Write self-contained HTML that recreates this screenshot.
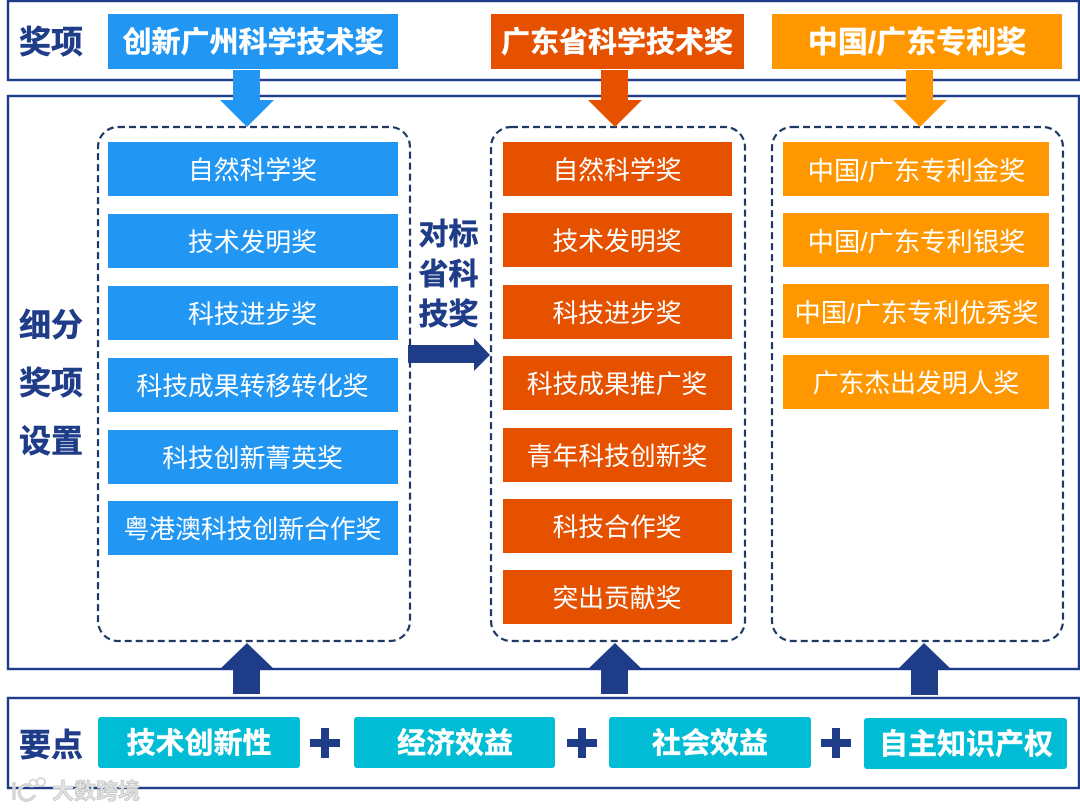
<!DOCTYPE html>
<html><head><meta charset="utf-8"><style>
html,body{margin:0;padding:0;background:#fff;width:1080px;height:810px;overflow:hidden}
svg{display:block}
text{font-family:"Liberation Sans","Noto Sans CJK SC",sans-serif;text-anchor:middle}
.i,.t,.n,.c,.w{transform:translateY(2px)}
.i{font-size:25.8px;fill:#fff;dominant-baseline:central}
.w{font-size:26.3px}
.t{font-size:29px;fill:#fff;font-weight:700;dominant-baseline:central;stroke:#fff;stroke-width:.4}
.n{font-size:32px;fill:#1f3c88;font-weight:700;dominant-baseline:central;stroke:#1f3c88;stroke-width:.5}
.c{font-size:29px;fill:#fff;font-weight:700;dominant-baseline:central;stroke:#fff;stroke-width:.4}
</style></head><body>
<svg width="1080" height="810" viewBox="0 0 1080 810" xmlns="http://www.w3.org/2000/svg">
<g fill="none" stroke="#1f3c88" stroke-width="2.4">
<rect x="8" y="1" width="1071" height="79"/>
<rect x="8" y="96" width="1071" height="573"/>
<rect x="8" y="698" width="1071" height="90"/>
</g>
<g fill="none" stroke="#1f3864" stroke-width="2.2" stroke-dasharray="7 4">
<rect x="98" y="127" width="312" height="514" rx="20"/>
<rect x="491" y="127" width="254" height="514" rx="20"/>
<rect x="772" y="127" width="291" height="514" rx="20"/>
</g>
<rect x="108" y="14" width="290" height="55" fill="#2196f3"/>
<rect x="491" y="14" width="253" height="55" fill="#e65100"/>
<rect x="772" y="14" width="290" height="55" fill="#ff9800"/>
<polygon points="233,70 260,70 260,100 274,100 247,127 220,100 233,100" fill="#2196f3"/>
<polygon points="601,70 628,70 628,100 642,100 615,127 588,100 601,100" fill="#e65100"/>
<polygon points="906,70 933,70 933,100 947,100 920,127 893,100 906,100" fill="#ff9800"/>
<g fill="#1f3c88">
<polygon points="233,694 260,694 260,669 274,669 247,643 220,669 233,669"/>
<polygon points="601,694 628,694 628,669 642,669 615,643 588,669 601,669"/>
<polygon points="911,695 938,695 938,669 951,669 924,643 898,669 911,669"/>
<polygon points="408,345 474,345 474,338 490,355 474,371 474,363 408,363"/>
<rect x="310" y="739" width="30" height="8"/><rect x="321" y="728" width="8" height="30"/>
<rect x="567" y="739" width="30" height="8"/><rect x="578" y="728" width="8" height="30"/>
<rect x="821" y="739" width="30" height="8"/><rect x="832" y="728" width="8" height="30"/>
</g>
<g fill="#2196f3">
<rect x="108" y="142" width="290" height="54"/><rect x="108" y="214" width="290" height="54"/>
<rect x="108" y="286" width="290" height="54"/><rect x="108" y="358" width="290" height="54"/>
<rect x="108" y="430" width="290" height="54"/><rect x="108" y="501" width="290" height="54"/>
</g>
<g fill="#e65100">
<rect x="503" y="142" width="229" height="54"/><rect x="503" y="213" width="229" height="54"/>
<rect x="503" y="285" width="229" height="54"/><rect x="503" y="356" width="229" height="54"/>
<rect x="503" y="428" width="229" height="54"/><rect x="503" y="499" width="229" height="54"/>
<rect x="503" y="570" width="229" height="54"/>
</g>
<g fill="#ff9800">
<rect x="783" y="142" width="266" height="54"/><rect x="783" y="213" width="266" height="54"/>
<rect x="783" y="284" width="266" height="54"/><rect x="783" y="355" width="266" height="54"/>
</g>
<g fill="#00bcd4">
<rect x="98" y="717" width="202" height="51" rx="3"/>
<rect x="354" y="717" width="201" height="51" rx="3"/>
<rect x="609" y="717" width="202" height="51" rx="3"/>
<rect x="864" y="718" width="203" height="51" rx="3"/>
</g>
<text class="n" x="51" y="40">奖项</text>
<text class="t" x="253" y="41">创新广州科学技术奖</text>
<text class="t" x="617" y="41">广东省科学技术奖</text>
<text class="t" x="917" y="41" style="font-size:30px">中国/广东专利奖</text>
<text class="n" x="51" y="323">细分</text>
<text class="n" x="51" y="381">奖项</text>
<text class="n" x="51" y="439">设置</text>
<text class="n" x="448.5" y="233" style="font-size:30px">对标</text>
<text class="n" x="448.5" y="273" style="font-size:30px">省科</text>
<text class="n" x="448.5" y="313" style="font-size:30px">技奖</text>
<text class="i" x="252.5" y="169">自然科学奖</text>
<text class="i" x="252.5" y="241">技术发明奖</text>
<text class="i" x="252.5" y="313">科技进步奖</text>
<text class="i" x="252.5" y="385">科技成果转移转化奖</text>
<text class="i" x="252.5" y="457">科技创新菁英奖</text>
<text class="i" x="252.5" y="528">粤港澳科技创新合作奖</text>
<text class="i" x="617" y="169">自然科学奖</text>
<text class="i" x="617" y="240">技术发明奖</text>
<text class="i" x="617" y="312">科技进步奖</text>
<text class="i" x="617" y="383">科技成果推广奖</text>
<text class="i" x="617" y="455">青年科技创新奖</text>
<text class="i" x="617" y="526">科技合作奖</text>
<text class="i" x="617" y="597">突出贡献奖</text>
<text class="i w" x="916.5" y="169">中国/广东专利金奖</text>
<text class="i w" x="916.5" y="240">中国/广东专利银奖</text>
<text class="i w" x="916.5" y="311">中国/广东专利优秀奖</text>
<text class="i" x="916" y="382">广东杰出发明人奖</text>
<text class="n" x="51" y="743">要点</text>
<text class="c" x="199" y="742">技术创新性</text>
<text class="c" x="455" y="742">经济效益</text>
<text class="c" x="710" y="742">社会效益</text>
<text class="c" x="966" y="743">自主知识产权</text>
<g>
<text x="96" y="799" style="font-size:22px;fill:#e2e2e2;font-weight:700;stroke:#bdbdbd;stroke-width:.6">大数跨境</text>
<g fill="none" stroke="#d6d6d6" stroke-width="3.5">
<path d="M14 782V800"/>
<path d="M32 786C22 782 17 790 20 796C23 802 30 802 35 795"/>
<circle cx="33" cy="783" r="3.5" stroke-width="1.8"/>
<circle cx="41" cy="782" r="4" stroke-width="1.8"/>
</g>
</g>
</svg>
</body></html>
